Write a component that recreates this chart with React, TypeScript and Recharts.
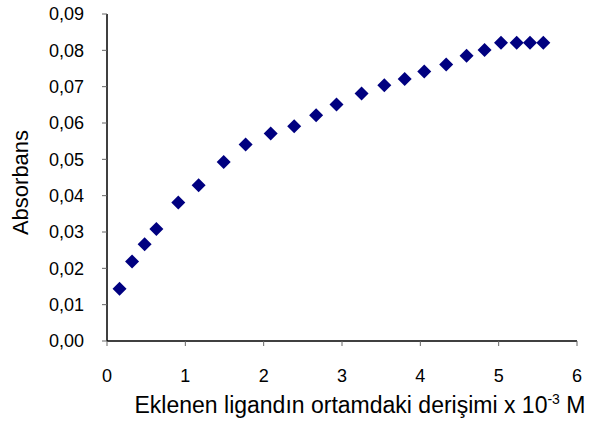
import { ScatterChart, Scatter, XAxis, YAxis } from "recharts";

const concentration = [
  0.16, 0.32, 0.48, 0.63, 0.91, 1.17, 1.49, 1.77, 2.09, 2.39, 2.67, 2.93,
  3.25, 3.54, 3.8, 4.05, 4.33, 4.59, 4.82, 5.03, 5.23, 5.4, 5.57,
];
const absorbance = [
  0.0144, 0.0219, 0.0266, 0.0308, 0.0381, 0.0429, 0.0493, 0.0541, 0.0571,
  0.0591, 0.0621, 0.0651, 0.0681, 0.0704, 0.0721, 0.0742, 0.0761, 0.0785,
  0.0801, 0.0821, 0.0821, 0.0821, 0.0821,
];
const xTicks = [0, 1, 2, 3, 4, 5, 6];
const yTicks = [0, 0.01, 0.02, 0.03, 0.04, 0.05, 0.06, 0.07, 0.08, 0.09];

const data = concentration.map((x, i) => ({ x, y: absorbance[i] }));

const FONT = "'Liberation Sans', Arial, sans-serif";
const MARKER = "#000080";

function Diamond(props: { cx?: number; cy?: number }) {
  const { cx = 0, cy = 0 } = props;
  const r = 7;
  return (
    <polygon
      points={`${cx},${cy - r} ${cx + r},${cy} ${cx},${cy + r} ${cx - r},${cy}`}
      fill={MARKER}
    />
  );
}

type VB = { viewBox?: { x: number; y: number; width: number; height: number } };

function XTitle({ viewBox }: VB) {
  const vb = viewBox || { x: 0, y: 0, width: 0, height: 0 };
  const cx = vb.x + vb.width / 2 + 18;
  return (
    <text x={cx} y={vb.y + 72} textAnchor="middle" fontSize={23} fontFamily={FONT} fill="#000">
      Eklenen ligandın ortamdaki derişimi x 10
      <tspan dy={-9} fontSize={14}>-3</tspan>
      <tspan dy={9}> M</tspan>
    </text>
  );
}

function YTitle({ viewBox }: VB) {
  const vb = viewBox || { x: 0, y: 0, width: 0, height: 0 };
  const cx = 28;
  const cy = vb.y + vb.height / 2 + 5;
  return (
    <text
      x={cx}
      y={cy}
      textAnchor="middle"
      fontSize={22}
      fontFamily={FONT}
      fill="#000"
      transform={`rotate(-90, ${cx}, ${cy})`}
    >
      Absorbans
    </text>
  );
}

export default function App() {
  return (
    <div style={{ position: "absolute", left: 0, top: 0, background: "#fff" }}>
      <ScatterChart
        width={590}
        height={424}
        margin={{ top: 14, right: 13, bottom: 13, left: 47 }}
      >
        <XAxis
          type="number"
          dataKey="x"
          domain={[0, 6]}
          ticks={xTicks}
          height={70}
          tickSize={5}
          tickMargin={23}
          axisLine={{ stroke: "#000", strokeWidth: 1.5 }}
          tickLine={{ stroke: "#666" }}
          tick={{ fontSize: 18, fontFamily: FONT, fill: "#000" }}
          label={<XTitle />}
        />
        <YAxis
          type="number"
          dataKey="y"
          domain={[0, 0.09]}
          ticks={yTicks}
          width={60}
          tickSize={5}
          tickMargin={18}
          axisLine={{ stroke: "#000", strokeWidth: 1.5 }}
          tickLine={{ stroke: "#666" }}
          tick={{ fontSize: 18, fontFamily: FONT, fill: "#000" }}
          tickFormatter={(v: number) => v.toFixed(2).replace(".", ",")}
          label={<YTitle />}
        />
        <Scatter data={data} fill={MARKER} shape={<Diamond />} isAnimationActive={false} />
      </ScatterChart>
    </div>
  );
}
